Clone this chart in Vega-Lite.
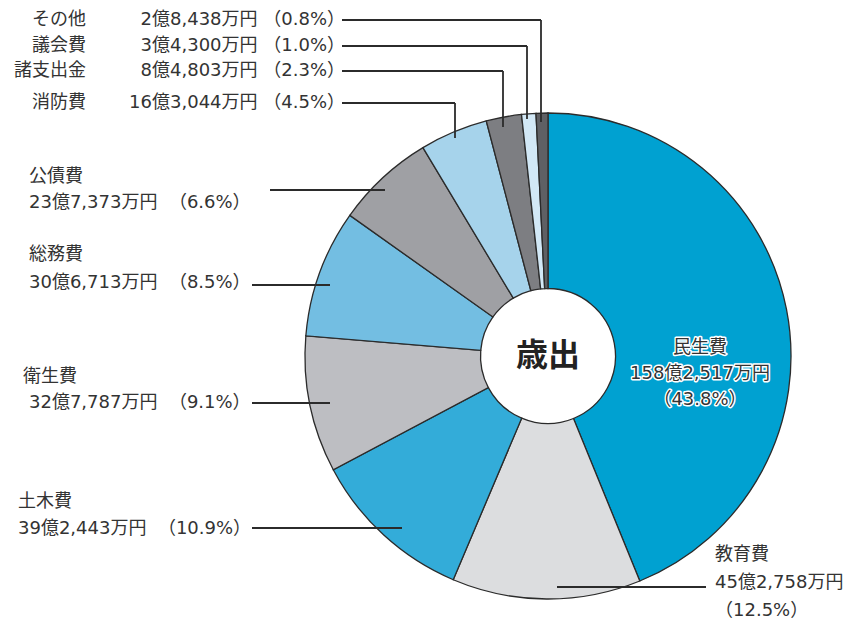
{
  "$schema": "https://vega.github.io/schema/vega-lite/v6.json",
  "width": 638,
  "height": 536,
  "autosize": {"type": "none"},
  "padding": {"left": 229, "top": 88, "right": 0, "bottom": 0},
  "background": "#ffffff",
  "config": {
    "view": {"stroke": null},
    "font": "DejaVu Sans, Noto Sans CJK JP",
    "text": {"font": "DejaVu Sans, Noto Sans CJK JP", "fontSize": 18, "color": "#333333"}
  },
  "data": {
    "values": [
      {"費目": "民生費", "金額": 1582517},
      {"費目": "教育費", "金額": 452758},
      {"費目": "土木費", "金額": 392443},
      {"費目": "衛生費", "金額": 327787},
      {"費目": "総務費", "金額": 306713},
      {"費目": "公債費", "金額": 237373},
      {"費目": "消防費", "金額": 163044},
      {"費目": "諸支出金", "金額": 84803},
      {"費目": "議会費", "金額": 34300},
      {"費目": "その他", "金額": 28438}
    ]
  },
  "layer": [
    {
      "mark": {"type": "arc", "outerRadius": 243, "innerRadius": 67.5, "stroke": "#2b2b2b", "strokeWidth": 1.3},
      "encoding": {
        "theta": {"field": "金額", "type": "quantitative"},
        "order": {"field": "金額", "type": "quantitative", "sort": "descending"},
        "color": {
          "field": "費目", "type": "nominal", "legend": null,
          "scale": {
            "domain": ["民生費", "教育費", "土木費", "衛生費", "総務費", "公債費", "消防費", "諸支出金", "議会費", "その他"],
            "range": ["#00a1d1", "#dcdddf", "#33acd9", "#bdbec2", "#73bee2", "#9fa0a4", "#a6d3eb", "#7d7e82", "#d2e8f6", "#5f6064"]
          }
        }
      }
    },
    {
      "transform": [{"filter": {"field": "費目", "equal": "民生費"}}],
      "mark": {"type": "text", "text": "歳出", "font": "Noto Sans CJK JP", "fontSize": 32, "fontWeight": "bold", "align": "center", "baseline": "middle", "color": "#222222"},
      "encoding": {}
    },
    {
      "transform": [{"filter": {"field": "費目", "equal": "民生費"}}],
      "mark": {"type": "text", "text": ["民生費", "158億2,517万円", "（43.8%）"], "align": "center", "baseline": "middle", "lineHeight": 26, "stroke": "#ffffff", "strokeWidth": 3, "strokeJoin": "round", "fill": "#ffffff"},
      "encoding": {"x": {"value": 471}, "y": {"value": 260}}
    },
    {
      "transform": [{"filter": {"field": "費目", "equal": "民生費"}}],
      "mark": {"type": "text", "text": ["民生費", "158億2,517万円", "（43.8%）"], "align": "center", "baseline": "middle", "lineHeight": 26, "fill": "#333333"},
      "encoding": {"x": {"value": 471}, "y": {"value": 260}}
    },
    {
      "transform": [{"filter": {"field": "費目", "equal": "その他"}}],
      "mark": {"type": "text", "text": "その他", "align": "right", "baseline": "middle"},
      "encoding": {"x": {"value": -143}, "y": {"value": -68}}
    },
    {
      "transform": [{"filter": {"field": "費目", "equal": "その他"}}],
      "mark": {"type": "text", "text": "2億8,438万円 （0.8%）", "align": "right", "baseline": "middle"},
      "encoding": {"x": {"value": 116}, "y": {"value": -68}}
    },
    {
      "transform": [{"filter": {"field": "費目", "equal": "議会費"}}],
      "mark": {"type": "text", "text": "議会費", "align": "right", "baseline": "middle"},
      "encoding": {"x": {"value": -143}, "y": {"value": -42}}
    },
    {
      "transform": [{"filter": {"field": "費目", "equal": "議会費"}}],
      "mark": {"type": "text", "text": "3億4,300万円 （1.0%）", "align": "right", "baseline": "middle"},
      "encoding": {"x": {"value": 116}, "y": {"value": -42}}
    },
    {
      "transform": [{"filter": {"field": "費目", "equal": "諸支出金"}}],
      "mark": {"type": "text", "text": "諸支出金", "align": "right", "baseline": "middle"},
      "encoding": {"x": {"value": -143}, "y": {"value": -17}}
    },
    {
      "transform": [{"filter": {"field": "費目", "equal": "諸支出金"}}],
      "mark": {"type": "text", "text": "8億4,803万円 （2.3%）", "align": "right", "baseline": "middle"},
      "encoding": {"x": {"value": 116}, "y": {"value": -17}}
    },
    {
      "transform": [{"filter": {"field": "費目", "equal": "消防費"}}],
      "mark": {"type": "text", "text": "消防費", "align": "right", "baseline": "middle"},
      "encoding": {"x": {"value": -143}, "y": {"value": 15}}
    },
    {
      "transform": [{"filter": {"field": "費目", "equal": "消防費"}}],
      "mark": {"type": "text", "text": "16億3,044万円 （4.5%）", "align": "right", "baseline": "middle"},
      "encoding": {"x": {"value": 116}, "y": {"value": 15}}
    },
    {
      "transform": [{"filter": {"field": "費目", "equal": "公債費"}}],
      "mark": {"type": "text", "text": ["公債費", "23億7,373万円 \u00a0（6.6%）"], "align": "left", "baseline": "middle", "lineHeight": 26},
      "encoding": {"x": {"value": -200}, "y": {"value": 89}}
    },
    {
      "transform": [{"filter": {"field": "費目", "equal": "総務費"}}],
      "mark": {"type": "text", "text": ["総務費", "30億6,713万円 \u00a0（8.5%）"], "align": "left", "baseline": "middle", "lineHeight": 28},
      "encoding": {"x": {"value": -200}, "y": {"value": 167}}
    },
    {
      "transform": [{"filter": {"field": "費目", "equal": "衛生費"}}],
      "mark": {"type": "text", "text": "衛生費", "align": "left", "baseline": "middle"},
      "encoding": {"x": {"value": -206}, "y": {"value": 289}}
    },
    {
      "transform": [{"filter": {"field": "費目", "equal": "衛生費"}}],
      "mark": {"type": "text", "text": "32億7,787万円 \u00a0（9.1%）", "align": "left", "baseline": "middle"},
      "encoding": {"x": {"value": -200}, "y": {"value": 315}}
    },
    {
      "transform": [{"filter": {"field": "費目", "equal": "土木費"}}],
      "mark": {"type": "text", "text": ["土木費", "39億2,443万円 \u00a0（10.9%）"], "align": "left", "baseline": "middle", "lineHeight": 27},
      "encoding": {"x": {"value": -211}, "y": {"value": 414}}
    },
    {
      "transform": [{"filter": {"field": "費目", "equal": "教育費"}}],
      "mark": {"type": "text", "text": ["教育費", "45億2,758万円", "（12.5%）"], "align": "left", "baseline": "middle", "lineHeight": 28},
      "encoding": {"x": {"value": 486}, "y": {"value": 467}}
    },
    {
      "transform": [{"filter": {"field": "費目", "equal": "その他"}}],
      "mark": {"type": "rule", "color": "#2b2b2b", "strokeWidth": 1.8},
      "encoding": {"x": {"value": 113}, "x2": {"value": 312}, "y": {"value": -68}, "y2": {"value": -68}}
    },
    {
      "transform": [{"filter": {"field": "費目", "equal": "その他"}}],
      "mark": {"type": "rule", "color": "#2b2b2b", "strokeWidth": 1.8},
      "encoding": {"x": {"value": 312}, "x2": {"value": 312}, "y": {"value": -68}, "y2": {"value": 34}}
    },
    {
      "transform": [{"filter": {"field": "費目", "equal": "議会費"}}],
      "mark": {"type": "rule", "color": "#2b2b2b", "strokeWidth": 1.8},
      "encoding": {"x": {"value": 113}, "x2": {"value": 298}, "y": {"value": -42}, "y2": {"value": -42}}
    },
    {
      "transform": [{"filter": {"field": "費目", "equal": "議会費"}}],
      "mark": {"type": "rule", "color": "#2b2b2b", "strokeWidth": 1.8},
      "encoding": {"x": {"value": 298}, "x2": {"value": 298}, "y": {"value": -42}, "y2": {"value": 31}}
    },
    {
      "transform": [{"filter": {"field": "費目", "equal": "諸支出金"}}],
      "mark": {"type": "rule", "color": "#2b2b2b", "strokeWidth": 1.8},
      "encoding": {"x": {"value": 113}, "x2": {"value": 274}, "y": {"value": -17}, "y2": {"value": -17}}
    },
    {
      "transform": [{"filter": {"field": "費目", "equal": "諸支出金"}}],
      "mark": {"type": "rule", "color": "#2b2b2b", "strokeWidth": 1.8},
      "encoding": {"x": {"value": 274}, "x2": {"value": 274}, "y": {"value": -17}, "y2": {"value": 39}}
    },
    {
      "transform": [{"filter": {"field": "費目", "equal": "消防費"}}],
      "mark": {"type": "rule", "color": "#2b2b2b", "strokeWidth": 1.8},
      "encoding": {"x": {"value": 113}, "x2": {"value": 226}, "y": {"value": 15}, "y2": {"value": 15}}
    },
    {
      "transform": [{"filter": {"field": "費目", "equal": "消防費"}}],
      "mark": {"type": "rule", "color": "#2b2b2b", "strokeWidth": 1.8},
      "encoding": {"x": {"value": 226}, "x2": {"value": 226}, "y": {"value": 15}, "y2": {"value": 50}}
    },
    {
      "transform": [{"filter": {"field": "費目", "equal": "公債費"}}],
      "mark": {"type": "rule", "color": "#2b2b2b", "strokeWidth": 1.8},
      "encoding": {"x": {"value": 41}, "x2": {"value": 156}, "y": {"value": 102}, "y2": {"value": 102}}
    },
    {
      "transform": [{"filter": {"field": "費目", "equal": "総務費"}}],
      "mark": {"type": "rule", "color": "#2b2b2b", "strokeWidth": 1.8},
      "encoding": {"x": {"value": 23}, "x2": {"value": 101}, "y": {"value": 197}, "y2": {"value": 197}}
    },
    {
      "transform": [{"filter": {"field": "費目", "equal": "衛生費"}}],
      "mark": {"type": "rule", "color": "#2b2b2b", "strokeWidth": 1.8},
      "encoding": {"x": {"value": 23}, "x2": {"value": 101}, "y": {"value": 315}, "y2": {"value": 315}}
    },
    {
      "transform": [{"filter": {"field": "費目", "equal": "土木費"}}],
      "mark": {"type": "rule", "color": "#2b2b2b", "strokeWidth": 1.8},
      "encoding": {"x": {"value": 23}, "x2": {"value": 173}, "y": {"value": 440}, "y2": {"value": 440}}
    },
    {
      "transform": [{"filter": {"field": "費目", "equal": "教育費"}}],
      "mark": {"type": "rule", "color": "#2b2b2b", "strokeWidth": 1.8},
      "encoding": {"x": {"value": 328}, "x2": {"value": 477}, "y": {"value": 499}, "y2": {"value": 499}}
    }
  ]
}
